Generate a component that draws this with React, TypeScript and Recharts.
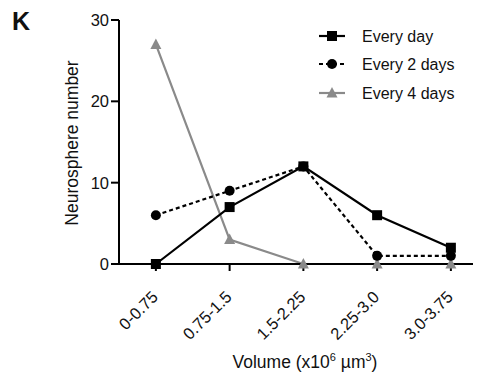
import React from 'react';
import { LineChart, Line, XAxis, YAxis, Label } from 'recharts';

const categories = ['0-0.75', '0.75-1.5', '1.5-2.25', '2.25-3.0', '3.0-3.75'];
const everyDay = [0, 7, 12, 6, 2];
const every2Days = [6, 9, 12, 1, 1];
const every4Days = [27, 3, 0, 0, 0];
const yTicks = [0, 10, 20, 30];
const xTicks = [0, 1, 2, 3, 4];
const seriesNames = ['Every day', 'Every 2 days', 'Every 4 days'];

const data = categories.map((c, i) => ({
  x: i,
  cat: c,
  everyDay: everyDay[i],
  every2Days: every2Days[i],
  every4Days: every4Days[i],
}));

const FONT = '"Liberation Sans", Arial, Helvetica, sans-serif';
const GRAY = '#8a8a8a';
const TEXT = '#111';

const SquareDot = (props: any) => {
  const { cx, cy, index } = props;
  if (cx == null || cy == null) return <g key={`s${index}`} />;
  return <rect key={`s${index}`} x={cx - 5} y={cy - 5} width={10} height={10} fill="#000" />;
};
const CircleDot = (props: any) => {
  const { cx, cy, index } = props;
  if (cx == null || cy == null) return <g key={`c${index}`} />;
  return <circle key={`c${index}`} cx={cx} cy={cy} r={5} fill="#000" />;
};
const TriDot = (props: any) => {
  const { cx, cy, index } = props;
  if (cx == null || cy == null) return <g key={`t${index}`} />;
  return (
    <path key={`t${index}`} d={`M${cx},${cy - 6} L${cx + 5.5},${cy + 4.5} L${cx - 5.5},${cy + 4.5} Z`} fill={GRAY} />
  );
};

const XTick = (props: any) => {
  const { x, y, payload } = props;
  return (
    <g transform={`translate(${x + 3},${y + 25})`}>
      <text textAnchor="end" transform="rotate(-45)" fontSize={16.5} fill={TEXT} fontFamily={FONT}>
        {categories[payload.value]}
      </text>
    </g>
  );
};

const Overlay = () => {
  const rows = [
    { y: 36, color: '#000', dash: undefined as string | undefined, marker: 'square' },
    { y: 64, color: '#000', dash: '4 3', marker: 'circle' },
    { y: 93, color: GRAY, dash: undefined, marker: 'tri' },
  ];
  return (
    <g fontFamily={FONT}>
      <text x={12} y={30} fontSize={25} fontWeight="bold" fill={TEXT}>K</text>
      <text
        x={78}
        y={143}
        fontSize={17.5}
        fill={TEXT}
        textAnchor="middle"
        transform="rotate(-90 78 143)"
      >
        Neurosphere number
      </text>
      {rows.map((r, i) => (
        <g key={i}>
          <line x1={319} x2={345} y1={r.y} y2={r.y} stroke={r.color} strokeWidth={2.2} strokeDasharray={r.dash} />
          {r.marker === 'square' && <rect x={327} y={r.y - 5} width={10} height={10} fill="#000" />}
          {r.marker === 'circle' && <circle cx={332} cy={r.y} r={5} fill="#000" />}
          {r.marker === 'tri' && (
            <path d={`M332,${r.y - 6} L337.5,${r.y + 4.5} L326.5,${r.y + 4.5} Z`} fill={GRAY} />
          )}
          <text x={362} y={r.y + 5.5} fontSize={16} fill={TEXT}>{seriesNames[i]}</text>
        </g>
      ))}
    </g>
  );
};

export default function App() {
  return (
    <div style={{ position: 'absolute', left: 0, top: 0, width: 477, height: 379, background: '#fff' }}>
      <LineChart width={477} height={379} data={data} margin={{ top: 20, right: 4, bottom: 35, left: 0 }}>
        <XAxis
          dataKey="x"
          type="number"
          domain={[-0.5, 4.3]}
          ticks={xTicks}
          interval={0}
          height={80}
          tick={<XTick />}
          tickSize={7}
          tickLine={{ stroke: '#000', strokeWidth: 2 }}
          axisLine={{ stroke: '#000', strokeWidth: 2 }}
          allowDecimals={false}
        >
          <Label
            content={() => (
              <text x={305} y={368} fontSize={17.5} fill={TEXT} textAnchor="middle" fontFamily={FONT}>
                Volume (x10<tspan fontSize={11} dy={-7}>6</tspan>
                <tspan dy={7}> µm</tspan>
                <tspan fontSize={11} dy={-7}>3</tspan>
                <tspan dy={7}>)</tspan>
              </text>
            )}
          />
        </XAxis>
        <YAxis
          width={119}
          domain={[0, 30]}
          ticks={yTicks}
          interval={0}
          tickSize={8}
          tickMargin={2}
          tick={{ fontSize: 16.5, fill: TEXT, fontFamily: FONT }}
          tickLine={{ stroke: '#000', strokeWidth: 2 }}
          axisLine={{ stroke: '#000', strokeWidth: 2 }}
        >
          <Label content={() => <Overlay />} />
        </YAxis>
        <Line
          dataKey="every4Days"
          stroke={GRAY}
          strokeWidth={2.2}
          dot={TriDot}
          activeDot={false}
          isAnimationActive={false}
        />
        <Line
          dataKey="every2Days"
          stroke="#000"
          strokeWidth={2.2}
          strokeDasharray="4 3"
          dot={CircleDot}
          activeDot={false}
          isAnimationActive={false}
        />
        <Line
          dataKey="everyDay"
          stroke="#000"
          strokeWidth={2.2}
          dot={SquareDot}
          activeDot={false}
          isAnimationActive={false}
        />
      </LineChart>
    </div>
  );
}
